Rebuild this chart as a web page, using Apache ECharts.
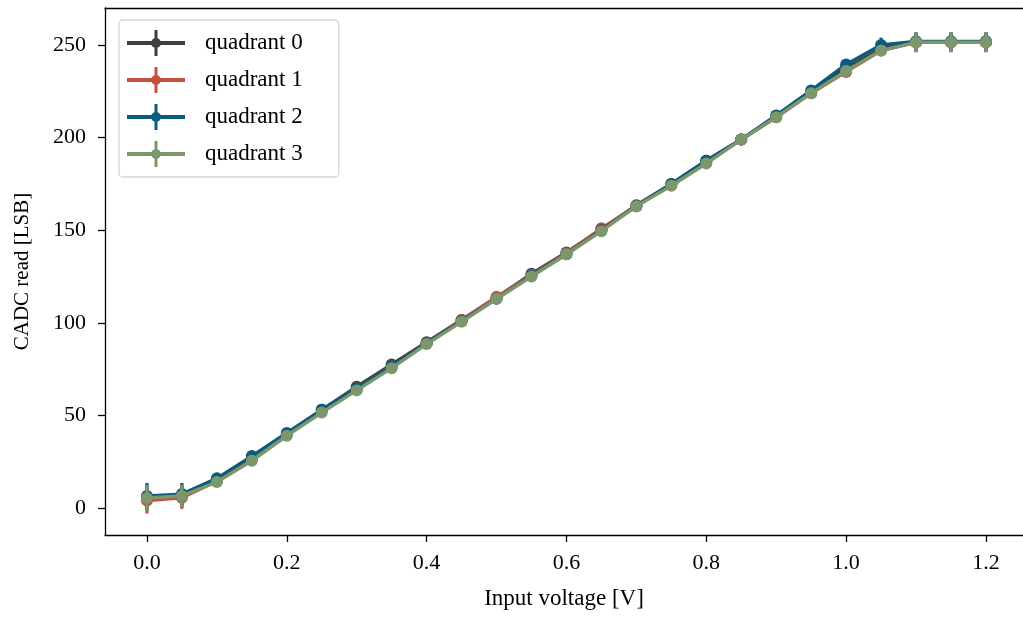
<!DOCTYPE html>
<html><head><meta charset="utf-8">
<script src="https://cdn.jsdelivr.net/npm/echarts@6/dist/echarts.min.js"></script>
<style>html,body{margin:0;padding:0;background:#fff}#c{width:1023px;height:617px}</style>
</head><body><div id="c"></div>
<script>
const voltages = [0,0.05,0.1,0.15,0.2,0.25,0.3,0.35,0.4,0.45,0.5,0.55,0.6,0.65,0.7,0.75,0.8,0.85,0.9,0.95,1.0,1.05,1.1,1.15,1.2];
const q0 = [5.5,6.5,15,27,40,53,65.5,77.5,89.5,101.5,113.5,126.5,138,150.5,163.5,175,187.5,199,211.5,224.5,237.5,248,251.5,251.5,251.5];
const q1 = [4,5.5,14.5,26.5,39.5,52.5,64.5,76.5,89,101.5,114,126,137.5,151,163,174.5,186.5,199,211,224,235.5,247,251.5,251.5,251.5];
const q2 = [6.5,7.5,16,28,40.5,53,64.5,76.5,89,101,113,125.5,137,150,163,175,187.5,199,212,225.5,239.5,250,252,252,252];
const q3 = [5.4,6.5,14,25.5,39,51.5,63.5,75.5,88.5,100.5,113,125,137,149.5,163,174,186,199,211,224,236,247,251.5,251.5,251.5];
const e0 = [7,6,1,1,1,1,1,1,1,1,1,1,1,1,1,1,1,1,1,1,1,3,5,5,5];
const e1 = [7,6,1,1,1,1,1,1,1,1,1,1,1,1,1,1,1,1,1,1,1,3,5,5,5];
const e2 = [7,6,1,1,1,1,1,1,1,1,1,1,1,1,1,1,1,1,1,1,1,4,5,5,5];
const e3 = [7,6,1,1,1,1,1,1,1,1,1,1,1,1,1,1,1,1,1,1,1,3,5.5,5.5,5.5];
const names = ['quadrant 0','quadrant 1','quadrant 2','quadrant 3'];
const colors = ['#3f3f3f','#c4513f','#0b5a80','#7c976b'];
const xTicks = [0,0.2,0.4,0.6,0.8,1.0,1.2];
const yTicks = [0,50,100,150,200,250];

const FONT = '"Liberation Serif", "DejaVu Serif", serif';
const vals = [q0,q1,q2,q3];
const errs = [e0,e1,e2,e3];
const legendIcon = 'path://M0,11 L58,11 L58,15 L0,15 Z M27.5,0 L30.5,0 L30.5,26 L27.5,26 Z M24,13 A5,5 0 1,1 34,13 A5,5 0 1,1 24,13 Z';
const series = [];
vals.forEach((v, i) => {
  series.push({
    type: 'custom', name: names[i], z: 2 + i*2,
    data: voltages.map((x, k) => [x, v[k] - errs[i][k], v[k] + errs[i][k]]),
    renderItem: function (params, api) {
      const p1 = api.coord([api.value(0), api.value(1)]);
      const p2 = api.coord([api.value(0), api.value(2)]);
      return { type: 'line', shape: {x1: p1[0], y1: p1[1], x2: p2[0], y2: p2[1]},
        style: { stroke: colors[i], lineWidth: 3.2 } };
    },
    silent: true
  });
  series.push({
    type: 'line', name: names[i], z: 3 + i*2,
    data: voltages.map((x, k) => [x, v[k]]),
    symbol: 'circle', symbolSize: 12, showSymbol: true,
    lineStyle: { color: colors[i], width: 3.4 },
    itemStyle: { color: colors[i] },
    animation: false
  });
});

const chart = echarts.init(document.getElementById('c'), null, {renderer: 'canvas'});
chart.setOption({
  animation: false,
  color: colors,
  grid: { left: 105, top: 8, right: 0, height: 527 },
  legend: {
    data: names.map((n, i) => ({ name: n, icon: legendIcon, itemStyle: { color: colors[i] } })),
    orient: 'vertical', left: 119, top: 20,
    itemWidth: 58, itemHeight: 26, itemGap: 11,
    padding: [10, 36, 10, 8],
    borderColor: '#d6d6d6', borderWidth: 1.3, borderRadius: 4,
    backgroundColor: 'rgba(255,255,255,0.85)',
    textStyle: { fontFamily: FONT, fontSize: 23, color: '#000', padding: [0,0,0,15] }
  },
  xAxis: [{
    type: 'value', min: -0.06, max: 1.253,
    name: 'Input voltage [V]', nameLocation: 'middle', nameGap: 52,
    nameTextStyle: { fontFamily: FONT, fontSize: 23, color: '#000' },
    axisLine: { show: true, onZero: false, lineStyle: { color: '#000', width: 1.3 } },
    axisTick: { show: true, length: 7, lineStyle: { color: '#000', width: 1.3 }, customValues: xTicks },
    axisLabel: { fontFamily: FONT, fontSize: 22, color: '#000', margin: 17, customValues: xTicks,
      formatter: v => v.toFixed(1) },
    splitLine: { show: false }
  }, {
    type: 'value', position: 'top', min: -0.06, max: 1.253,
    axisLine: { show: true, onZero: false, lineStyle: { color: '#000', width: 1.3 } },
    axisTick: { show: false }, axisLabel: { show: false }, splitLine: { show: false }
  }],
  yAxis: {
    type: 'value', min: -14.6, max: 270,
    name: 'CADC read [LSB]', nameLocation: 'middle', nameGap: 72, nameRotate: 90,
    nameTextStyle: { fontFamily: FONT, fontSize: 21, color: '#000' },
    axisLine: { show: true, onZero: false, lineStyle: { color: '#000', width: 1.3 } },
    axisTick: { show: true, length: 7, lineStyle: { color: '#000', width: 1.3 }, customValues: yTicks },
    axisLabel: { fontFamily: FONT, fontSize: 22, color: '#000', margin: 19, customValues: yTicks },
    splitLine: { show: false }
  },
  series: series
});
</script></body></html>
